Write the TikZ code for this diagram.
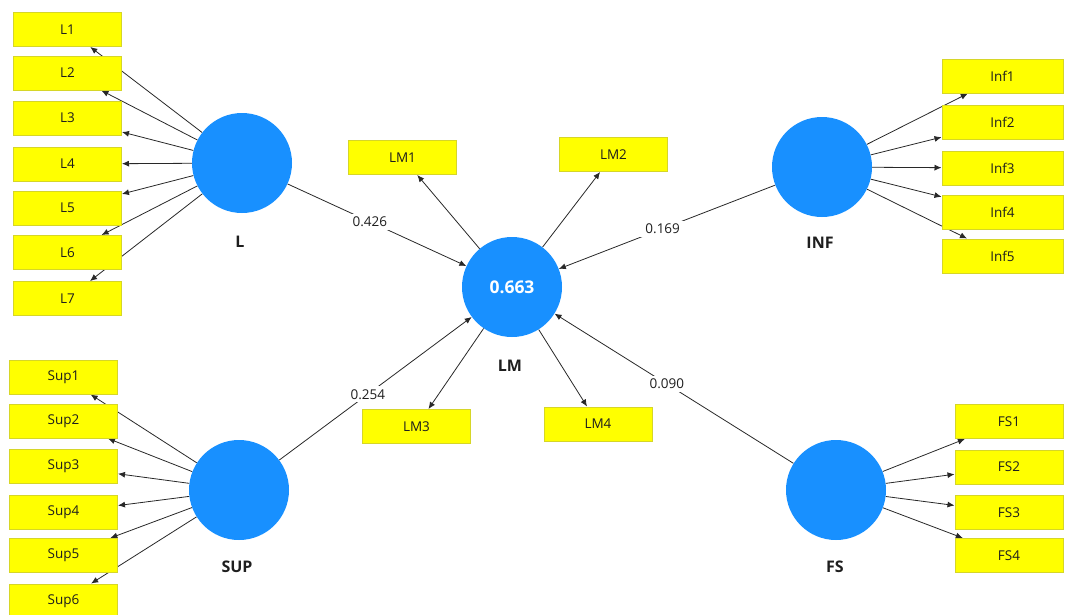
\documentclass[tikz,border=0pt]{standalone}
\usepackage{fontspec}
\setmainfont{Open Sans}
\usetikzlibrary{arrows.meta,backgrounds}
\definecolor{boxyellow}{RGB}{255,255,0}
\definecolor{boxborder}{RGB}{214,214,40}
\definecolor{lvblue}{RGB}{24,144,255}
\definecolor{linegray}{RGB}{40,40,40}
\definecolor{txt}{RGB}{30,30,30}
\tikzset{
  ind/.style={draw=boxborder, line width=1pt, fill=boxyellow, minimum width=108pt, minimum height=34pt, inner sep=0pt, text=txt, font=\fontsize{13.5}{15}\selectfont},
  indw/.style={ind, minimum width=121pt},
  lat/.style={circle, fill=lvblue, minimum size=100pt, inner sep=0pt},
  lvname/.style={font=\fontsize{16}{18}\selectfont\bfseries, text=txt},
  coef/.style={fill=white, inner xsep=5pt, inner ysep=3pt, text=txt, font=\fontsize{13.5}{15}\selectfont},
  arr/.style={draw=linegray, line width=0.8pt, -{Latex[length=7pt,width=6pt]}},
}
\begin{document}
\begin{tikzpicture}[x=1pt,y=-1pt]
\useasboundingbox (0,0) rectangle (1066,614);
% latent variables
\node[lat] (L) at (242,163) {};
\node[lat] (LM) at (512,287) {\textcolor{white}{\fontsize{17.5}{19}\selectfont\bfseries 0.663}};
\node[lat] (INF) at (822,167) {};
\node[lat] (SUP) at (239,490) {};
\node[lat] (FS) at (836,490) {};
\node[lvname] (Lname) at (240,242) {L};
\node[lvname] (LMname) at (510,366) {LM};
\node[lvname] (INFname) at (820,243) {INF};
\node[lvname] (SUPname) at (237,567) {SUP};
\node[lvname] (FSname) at (835,567) {FS};
% L indicators
\node[ind] (L1) at (67.5,29.5) {L1};
\node[ind] (L2) at (67.5,73) {L2};
\node[ind] (L3) at (67.5,118) {L3};
\node[ind] (L4) at (67.5,164) {L4};
\node[ind] (L5) at (67.5,208) {L5};
\node[ind] (L6) at (67.5,252.5) {L6};
\node[ind] (L7) at (67.5,298.5) {L7};
% SUP indicators
\node[ind] (Sup1) at (63.5,377) {Sup1};
\node[ind] (Sup2) at (63.5,421) {Sup2};
\node[ind] (Sup3) at (63.5,466.5) {Sup3};
\node[ind] (Sup4) at (63.5,512.5) {Sup4};
\node[ind] (Sup5) at (63.5,555.5) {Sup5};
\node[ind] (Sup6) at (63.5,601) {Sup6};
% LM indicators
\node[ind] (LM1) at (402.5,157.5) {LM1};
\node[ind] (LM2) at (613.5,154.5) {LM2};
\node[ind] (LM3) at (416.5,426.5) {LM3};
\node[ind] (LM4) at (598,424) {LM4};
% INF indicators
\node[indw] (Inf1) at (1002.5,76) {Inf1};
\node[indw] (Inf2) at (1002.5,122) {Inf2};
\node[indw] (Inf3) at (1002.5,168) {Inf3};
\node[indw] (Inf4) at (1002.5,212) {Inf4};
\node[indw] (Inf5) at (1002.5,256) {Inf5};
% FS indicators
\node[ind] (FS1) at (1009,421.5) {FS1};
\node[ind] (FS2) at (1009,467) {FS2};
\node[ind] (FS3) at (1009,512.5) {FS3};
\node[ind] (FS4) at (1009,555.5) {FS4};
\begin{scope}[on background layer]
  \foreach \i in {1,...,7} \draw[arr] (L) -- (L\i);
  \foreach \i in {1,...,6} \draw[arr] (SUP) -- (Sup\i);
  \foreach \i in {1,...,4} \draw[arr] (LM) -- (LM\i);
  \foreach \i in {1,...,5} \draw[arr] (INF) -- (Inf\i);
  \foreach \i in {1,...,4} \draw[arr] (FS) -- (FS\i);
  \draw[arr] (L) -- node[coef,pos=0.46] (cL) {0.426} (LM);
  \draw[arr] (SUP) -- node[coef,pos=0.46] (cSUP) {0.254} (LM);
  \draw[arr] (INF) -- node[coef,pos=0.52] (cINF) {0.169} (LM);
  \draw[arr] (FS) -- node[coef,pos=0.53] (cFS) {0.090} (LM);
\end{scope}
\end{tikzpicture}
\end{document}
